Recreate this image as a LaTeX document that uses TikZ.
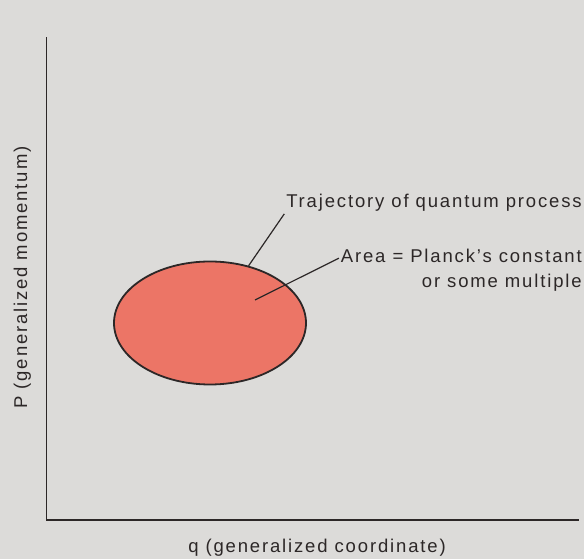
\documentclass[tikz,border=0pt]{standalone}
\usepackage{fontspec}
\setmainfont{Liberation Sans}[LetterSpace=10]
\usepackage{tikz}
\usetikzlibrary{shapes.geometric, positioning}
\definecolor{papercolor}{HTML}{DCDBD9}
\definecolor{orbitcolor}{HTML}{EC7566}
\definecolor{inkcolor}{HTML}{2C2727}

\begin{document}
\begin{tikzpicture}[x=1pt, y=1pt,
    axisline/.style={draw=inkcolor, line width=1.8pt},
    leader/.style={draw=inkcolor, line width=1.2pt},
    caption/.style={font=\fontsize{18.5}{25}\selectfont, text=inkcolor,
        inner sep=0pt, outer sep=2pt, text height=13.5pt, text depth=3.9pt}]
    % Paper
    \useasboundingbox (0,0) rectangle (584,559);
    \fill[papercolor] (0,0) rectangle (584,559);

    % Axes
    \coordinate (origin) at (46.5,39);
    \coordinate (ptop) at (46.5,521.5);
    \coordinate (qend) at (579,39);
    \draw[axisline] (ptop) -- (origin) -- (qend);
    \node[caption, anchor=base] (qlabel) at (317,6) {q (generalized coordinate)};
    \node[caption, rotate=90, anchor=base] (plabel) at (27,281.5)
        {P (generalized momentum)};

    % Trajectory
    \node[ellipse, draw=inkcolor, line width=1.8pt, fill=orbitcolor,
          minimum width=192pt, minimum height=123pt, inner sep=0pt]
        (orbit) at (210,236) {};
    \coordinate (areapoint) at (255,259);

    % Labels
    \node[caption, anchor=base east] (traj) at (583.7,351)
        {Trajectory of quantum process};
    \node[caption, anchor=base east] (area) at (583.7,296)
        {Area = Planck's constant};
    \node[caption, below left=3.6pt and 0pt of area.south east] (multiple)
        {or some multiple};

    % Leader lines
    \draw[leader] (orbit.56) -- (traj.south west);
    \draw[leader] (areapoint) -- (area.west);
\end{tikzpicture}
\end{document}
